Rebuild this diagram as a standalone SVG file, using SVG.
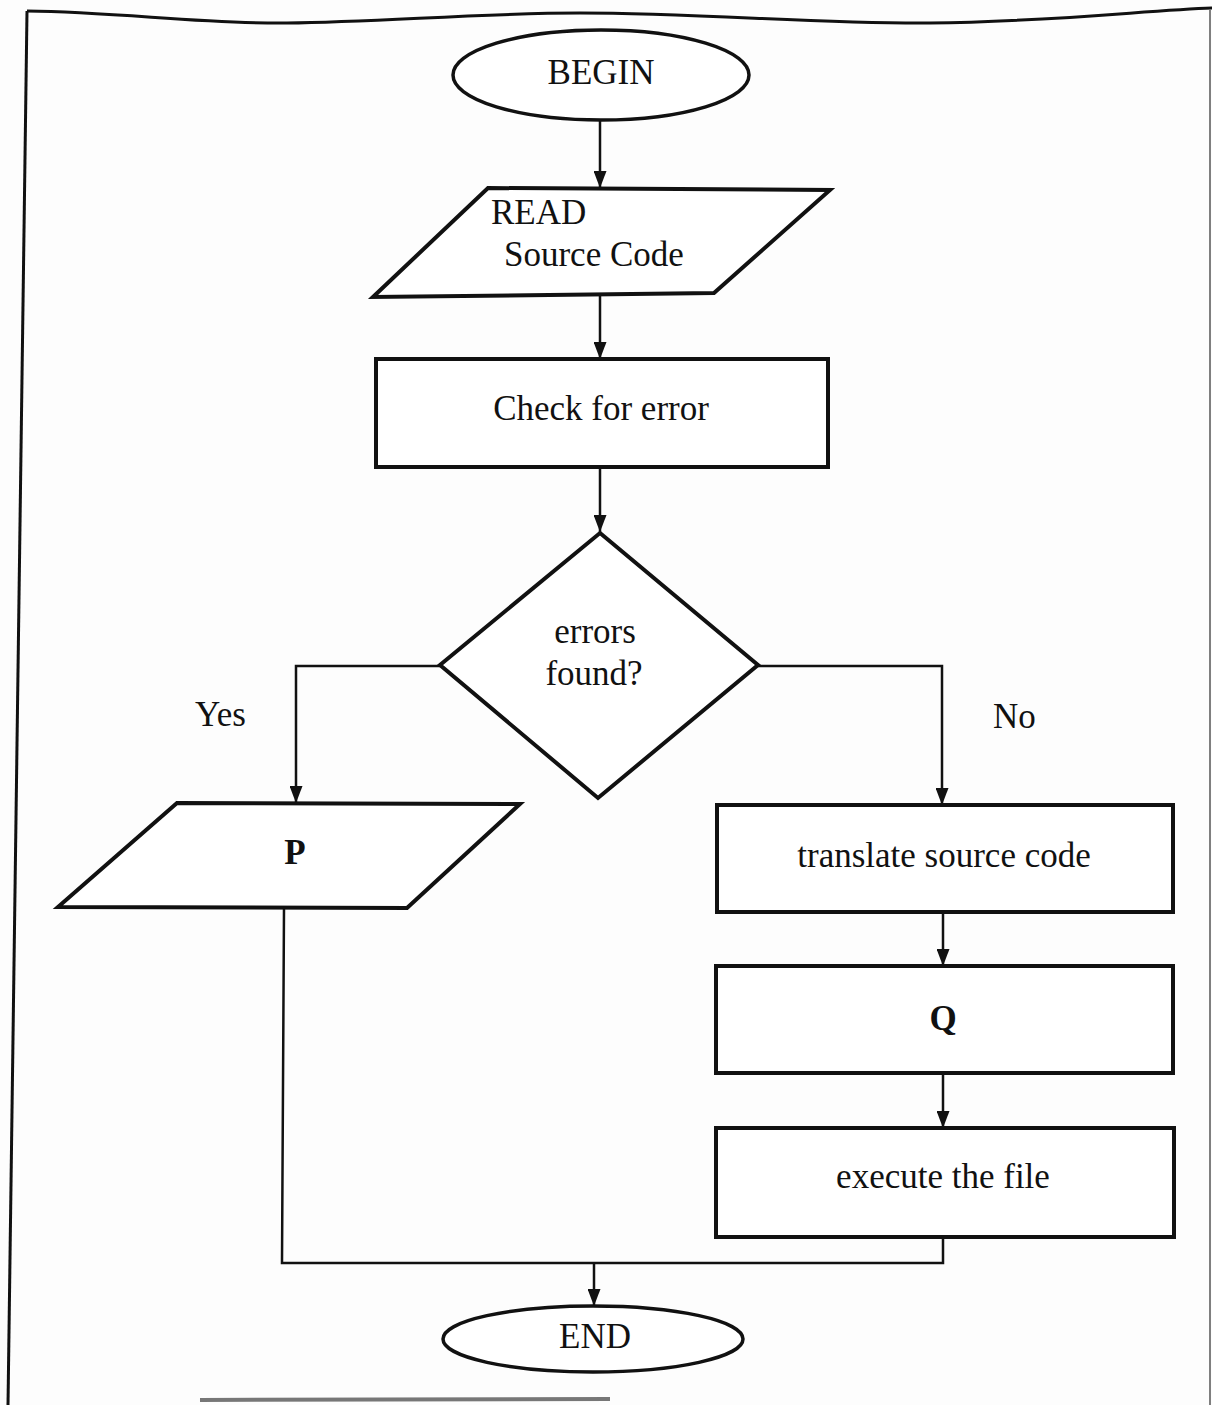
<svg xmlns="http://www.w3.org/2000/svg" width="1212" height="1405" viewBox="0 0 1212 1405">
<defs>
<style>
.shape{fill:#ffffff;stroke:#111;stroke-width:4}
.term{fill:#ffffff;stroke:#111;stroke-width:3.5}
.conn{fill:none;stroke:#111;stroke-width:2.5}
.t{font-family:"Liberation Serif","Times New Roman",serif;font-size:35px;fill:#111}
.c{text-anchor:middle}
.b{font-weight:bold}
.frame{fill:none;stroke:#111;stroke-width:3}
</style>
<marker id="arr" markerWidth="17" markerHeight="13" refX="17" refY="6.5" orient="auto" markerUnits="userSpaceOnUse">
<path d="M0,0 L17,6.5 L0,13 z" fill="#111"/>
</marker>
</defs>
<rect x="0" y="0" width="1212" height="1405" fill="#fdfdfd"/>
<g id="frame">
<path class="frame" d="M27,11 C120,12 200,24 287,23 C380,22 480,13 580,13 C700,13 820,24 930,23 C1050,22 1150,10 1212,8"/>
<path class="frame" d="M27,11 L8,1405"/>
<path d="M1210,10 L1210,1405" fill="none" stroke="#555" stroke-width="1.5"/>
<path d="M200,1400 L610,1399" fill="none" stroke="#777" stroke-width="4"/>
</g>
<g id="connectors">
<path class="conn" d="M600,121 L600,188" marker-end="url(#arr)"/>
<path class="conn" d="M600,296 L600,359" marker-end="url(#arr)"/>
<path class="conn" d="M600,467 L600,532" marker-end="url(#arr)"/>
<path class="conn" d="M440,666 L296,666 L296,803" marker-end="url(#arr)"/>
<path class="conn" d="M758,666 L942,666 L942,805" marker-end="url(#arr)"/>
<path class="conn" d="M943,912 L943,966" marker-end="url(#arr)"/>
<path class="conn" d="M943,1073 L943,1128" marker-end="url(#arr)"/>
<path class="conn" d="M284,908 L282,1263 L943,1263 L943,1237"/>
<path class="conn" d="M594,1263 L594,1306" marker-end="url(#arr)"/>
<text class="t" x="195" y="726">Yes</text>
<text class="t" x="993" y="728">No</text>
</g>
<g id="begin">
<ellipse class="term" cx="601" cy="75" rx="148" ry="45"/>
<text class="t c" x="601" y="84" font-size="32">BEGIN</text>
</g>
<g id="read">
<polygon class="shape" points="488,188 830,190 714,293 373,297"/>
<text class="t" x="491" y="224">READ</text>
<text class="t" x="504" y="266">Source Code</text>
</g>
<g id="check">
<rect class="shape" x="376" y="359" width="452" height="108"/>
<text class="t c" x="601" y="420">Check for error</text>
</g>
<g id="decision">
<polygon class="shape" points="600,533 758,665 598,798 440,665"/>
<text class="t c" x="595" y="643">errors</text>
<text class="t c" x="594" y="685">found?</text>
</g>
<g id="p">
<polygon class="shape" points="177,803 520,804 407,908 58,907"/>
<text class="t c b" x="295" y="864">P</text>
</g>
<g id="translate">
<rect class="shape" x="717" y="805" width="456" height="107"/>
<text class="t c" x="944" y="867">translate source code</text>
</g>
<g id="q">
<rect class="shape" x="716" y="966" width="457" height="107"/>
<text class="t c b" x="943" y="1030">Q</text>
</g>
<g id="execute">
<rect class="shape" x="716" y="1128" width="458" height="109"/>
<text class="t c" x="943" y="1188">execute the file</text>
</g>
<g id="end">
<ellipse class="term" cx="593" cy="1339" rx="150" ry="33"/>
<text class="t c" x="595" y="1348" font-size="31">END</text>
</g>
</svg>
